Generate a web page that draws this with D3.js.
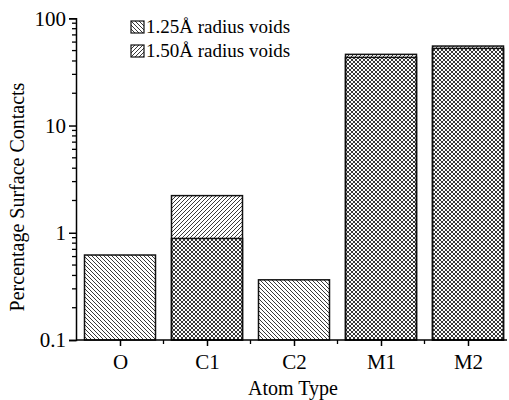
<!DOCTYPE html>
<html>
<head>
<meta charset="utf-8">
<script src="https://cdn.jsdelivr.net/npm/d3@7"></script>
<style>
  body { margin: 0; background: #fff; }
  svg { display: block; font-family: "Liberation Serif", "Times New Roman", serif; }
</style>
</head>
<body>
<div id="chart"></div>
<script>
const width = 509,
  height = 400,
  margin = { left: 76, right: 2, top: 18, bottom: 60 };

// data
const atoms = ["O", "C1", "C2", "M1", "M2"];
const voids125 = [0.62, 0.885, 0.364, 43.2, 52.4];
const voids150 = [0, 2.22, 0, 46.1, 55.1];
const seriesNames = ["1.25Å radius voids", "1.50Å radius voids"];
const yTicks = [0.1, 1, 10, 100];

const xScale = d3
  .scalePoint()
  .domain(atoms)
  .range([76.5, 511.5])
  .padding(0.5);
const barWidth = 71;

const yScale = d3
  .scaleLog()
  .domain([0.1, 100])
  .range([height - margin.bottom, margin.top + 0.3]);

const svg = d3
  .select("#chart")
  .append("svg")
  .attr("width", width)
  .attr("height", height);

// hatch patterns
const defs = svg.append("defs");
function hatch(id, dir) {
  const p = defs
    .append("pattern")
    .attr("id", id)
    .attr("patternUnits", "userSpaceOnUse")
    .attr("width", 4)
    .attr("height", 4);
  const g = p.append("g").attr("stroke", "#222").attr("stroke-width", 0.9);
  if (dir === "back") {
    g.append("path").attr("d", "M-1,-1 L5,5 M-1,3 L1,5 M3,-1 L5,1");
  } else {
    g.append("path").attr("d", "M-1,5 L5,-1 M-1,1 L1,-1 M3,5 L5,3");
  }
}
hatch("back", "back");
hatch("fwd", "fwd");

const bars = atoms.map((a, i) => ({ atom: a, a: voids125[i], b: voids150[i] }));
const base = yScale(0.1);

const barG = svg.append("g");

// white backing
barG
  .selectAll(".bg")
  .data(bars)
  .enter()
  .append("rect")
  .attr("x", (d) => xScale(d.atom) - barWidth / 2)
  .attr("y", (d) => yScale(Math.max(d.a, d.b)))
  .attr("width", barWidth)
  .attr("height", (d) => base - yScale(Math.max(d.a, d.b)))
  .attr("fill", "#fff");

const series = [
  { key: "a", pat: "back" },
  { key: "b", pat: "fwd" },
];

series.forEach((s) => {
  barG
    .selectAll(".h-" + s.key)
    .data(bars.filter((d) => d[s.key] > 0))
    .enter()
    .append("rect")
    .attr("x", (d) => xScale(d.atom) - barWidth / 2)
    .attr("y", (d) => yScale(d[s.key]))
    .attr("width", barWidth)
    .attr("height", (d) => base - yScale(d[s.key]))
    .attr("fill", `url(#${s.pat})`);
});

series.forEach((s) => {
  barG
    .selectAll(".o-" + s.key)
    .data(bars.filter((d) => d[s.key] > 0))
    .enter()
    .append("rect")
    .attr("x", (d) => xScale(d.atom) - barWidth / 2)
    .attr("y", (d) => yScale(d[s.key]))
    .attr("width", barWidth)
    .attr("height", (d) => base - yScale(d[s.key]))
    .attr("fill", "none")
    .attr("stroke", "#111")
    .attr("stroke-width", 1.5);
});

// y axis
const yAxis = svg
  .append("g")
  .attr("transform", `translate(${margin.left},0)`)
  .call(
    d3.axisLeft(yScale).tickValues(yTicks).tickFormat((d) => d).tickSize(7).tickPadding(3)
  );
const minorY = yScale.ticks().filter((d) => !yTicks.includes(d));
yAxis
  .selectAll(".minor")
  .data(minorY)
  .enter()
  .append("line")
  .attr("class", "minor")
  .attr("y1", (d) => yScale(d))
  .attr("y2", (d) => yScale(d))
  .attr("x1", 0)
  .attr("x2", -4)
  .attr("stroke", "#000")
  .attr("stroke-width", 1.3);

// x axis
const xAxis = svg
  .append("g")
  .attr("transform", `translate(0,${base})`)
  .call(d3.axisBottom(xScale).tickSize(6).tickPadding(8));
xAxis.select(".domain").attr("d", `M${margin.left},0H507`);
const step = xScale.step();
xAxis
  .selectAll(".minor")
  .data(atoms.slice(1))
  .enter()
  .append("line")
  .attr("x1", (d) => xScale(d) - step / 2)
  .attr("x2", (d) => xScale(d) - step / 2)
  .attr("y1", 0)
  .attr("y2", 4)
  .attr("stroke", "#000")
  .attr("stroke-width", 1.3);

svg
  .selectAll(".domain, .tick line")
  .attr("stroke", "#000")
  .attr("stroke-width", 1.5);
svg
  .selectAll(".tick text")
  .attr("font-family", "Liberation Serif")
  .attr("font-size", 21)
  .attr("fill", "#000");

// axis titles
svg
  .append("text")
  .attr("x", 293)
  .attr("y", 395)
  .attr("text-anchor", "middle")
  .attr("font-size", 20)
  .text("Atom Type");

svg
  .append("text")
  .attr("transform", "translate(24,197) rotate(-90)")
  .attr("text-anchor", "middle")
  .attr("font-size", 20)
  .text("Percentage Surface Contacts");

// legend
const legend = svg.append("g").attr("transform", "translate(131,0)");
const legendItems = legend
  .selectAll("g")
  .data(seriesNames)
  .enter()
  .append("g")
  .attr("transform", (d, i) => `translate(0,${21 + i * 24})`);
legendItems
  .append("rect")
  .attr("width", 13)
  .attr("height", 12)
  .attr("fill", (d, i) => `url(#${series[i].pat})`)
  .attr("stroke", "#111")
  .attr("stroke-width", 1.2);
legendItems
  .append("text")
  .attr("x", 15)
  .attr("y", 12)
  .attr("font-size", 19)
  .text((d) => d);
</script>
</body>
</html>
